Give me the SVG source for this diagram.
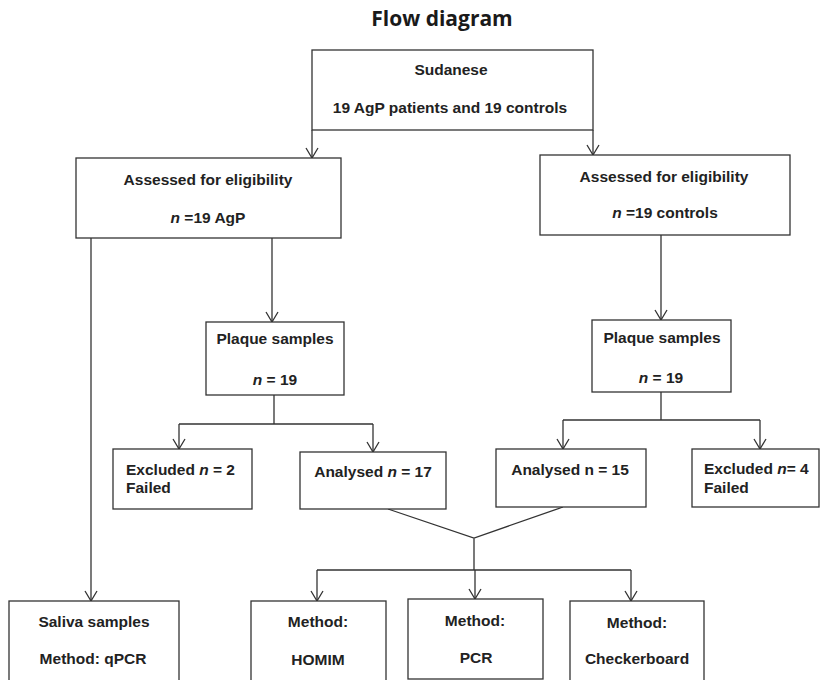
<svg xmlns="http://www.w3.org/2000/svg" width="821" height="680" viewBox="0 0 821 680">
<defs>
<style>
.box{fill:#fff;stroke:#333;stroke-width:1.3}
.ln{fill:none;stroke:#333;stroke-width:1.3}
.arr{fill:none;stroke:#333;stroke-width:1.3;marker-end:url(#ah)}
text{font-family:"Liberation Sans",Arial,sans-serif;font-weight:bold;font-size:15.5px;fill:#222}
.c{text-anchor:middle}
.title{font-family:"Open Sans","Noto Sans",sans-serif;font-size:21px;fill:#1a1a1a}
</style>
<marker id="ah" markerUnits="userSpaceOnUse" viewBox="-12 -8 13 16" markerWidth="13" markerHeight="16" refX="0" refY="0" orient="auto" overflow="visible">
<path d="M-10,-6 L0,0 L-10,6" fill="none" stroke="#333" stroke-width="1.3"/>
</marker>
</defs>
<rect width="821" height="680" fill="#fff"/>
<text class="title c" x="442" y="26">Flow diagram</text>

<g id="connectors">
<path class="arr" d="M312,130 V158"/>
<path class="arr" d="M593,130 V155"/>
<path class="arr" d="M91,238 V601"/>
<path class="arr" d="M272,238 V322"/>
<path class="arr" d="M661,235 V320"/>
<path class="ln" d="M274,395 V424 M179,424 H373"/>
<path class="arr" d="M179,424 V449"/>
<path class="arr" d="M373,424 V452"/>
<path class="ln" d="M661,392 V420 M563,420 H760"/>
<path class="arr" d="M563,420 V449"/>
<path class="arr" d="M760,420 V449"/>
<path class="ln" d="M388,509 L474,538 L563,507 M474,538 V570 M317,570 H631"/>
<path class="arr" d="M317,570 V601"/>
<path class="arr" d="M475,570 V599"/>
<path class="arr" d="M631,570 V601"/>
</g>

<g id="sudanese">
<rect class="box" x="312" y="50" width="281" height="80"/>
<text class="c" x="451" y="75">Sudanese</text>
<text class="c" x="450" y="113">19 AgP patients and 19 controls</text>
</g>
<g id="assessed-agp">
<rect class="box" x="76" y="158" width="265" height="80"/>
<text class="c" x="208" y="185">Assessed for eligibility</text>
<text class="c" x="208" y="223"><tspan font-style="italic">n</tspan> =19 AgP</text>
</g>
<g id="assessed-controls">
<rect class="box" x="540" y="155" width="250" height="80"/>
<text class="c" x="664" y="182">Assessed for eligibility</text>
<text class="c" x="665" y="218"><tspan font-style="italic">n</tspan> =19 controls</text>
</g>
<g id="plaque-agp">
<rect class="box" x="206" y="322" width="138" height="73"/>
<text class="c" x="275" y="344">Plaque samples</text>
<text class="c" x="275" y="385"><tspan font-style="italic">n</tspan> = 19</text>
</g>
<g id="plaque-controls">
<rect class="box" x="592" y="320" width="139" height="72"/>
<text class="c" x="662" y="343">Plaque samples</text>
<text class="c" x="661" y="383"><tspan font-style="italic">n</tspan> = 19</text>
</g>
<g id="excluded-agp">
<rect class="box" x="113" y="449" width="139" height="60"/>
<text x="126" y="475">Excluded <tspan font-style="italic">n</tspan> = 2</text>
<text x="126" y="493">Failed</text>
</g>
<g id="analysed-agp">
<rect class="box" x="300" y="452" width="146" height="57"/>
<text class="c" x="373" y="477">Analysed <tspan font-style="italic">n</tspan> = 17</text>
</g>
<g id="analysed-controls">
<rect class="box" x="496" y="449" width="150" height="58"/>
<text class="c" x="570" y="475">Analysed n = 15</text>
</g>
<g id="excluded-controls">
<rect class="box" x="692" y="449" width="127" height="58"/>
<text x="704" y="474">Excluded <tspan font-style="italic">n</tspan>= 4</text>
<text x="704" y="493">Failed</text>
</g>
<g id="saliva">
<rect class="box" x="9" y="601" width="170" height="90"/>
<text class="c" x="94" y="627">Saliva samples</text>
<text class="c" x="93" y="664">Method: qPCR</text>
</g>
<g id="homim">
<rect class="box" x="251" y="601" width="135" height="90"/>
<text class="c" x="318" y="627">Method:</text>
<text class="c" x="318" y="665">HOMIM</text>
</g>
<g id="pcr">
<rect class="box" x="408" y="599" width="135" height="80"/>
<text class="c" x="475" y="626">Method:</text>
<text class="c" x="476" y="663">PCR</text>
</g>
<g id="checkerboard">
<rect class="box" x="570" y="601" width="134" height="90"/>
<text class="c" x="637" y="628">Method:</text>
<text class="c" x="637" y="664">Checkerboard</text>
</g>
</svg>
